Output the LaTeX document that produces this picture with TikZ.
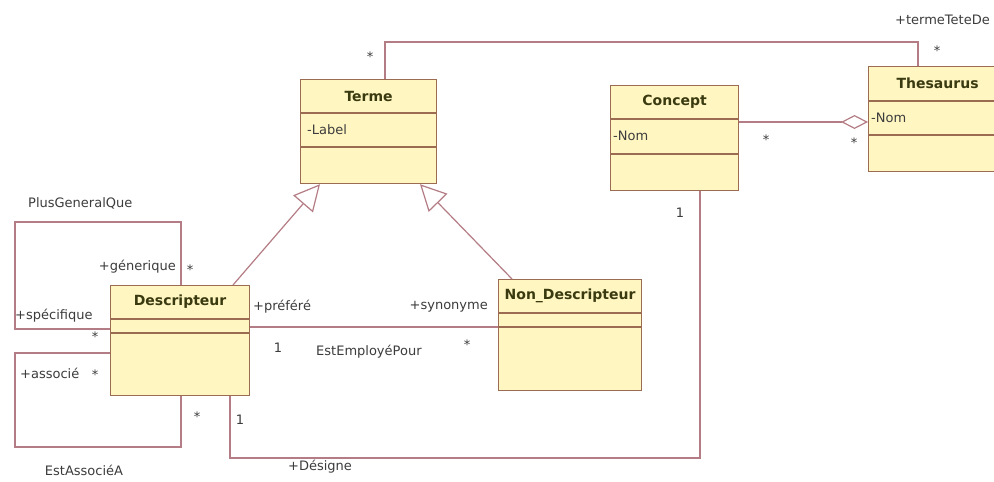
\documentclass[tikz,border=0pt]{standalone}
\usepackage{fontspec}
\setmainfont{DejaVu Sans}
\usetikzlibrary{calc,arrows.meta}
\definecolor{boxfill}{HTML}{FFF6C2}
\definecolor{boxdraw}{HTML}{9C6C52}
\definecolor{linec}{HTML}{B47C84}
\definecolor{titlec}{HTML}{3A3A10}
\definecolor{textc}{HTML}{3C3C3C}
\tikzset{
  classbox/.style={draw=boxdraw, fill=boxfill, line width=1.2pt, inner sep=0pt, anchor=north west},
  sepline/.style={draw=boxdraw, line width=1.2pt},
  ctitle/.style={font=\fontsize{14}{16}\selectfont\bfseries, text=titlec, inner sep=0pt},
  attr/.style={font=\fontsize{13}{15}\selectfont, text=textc, inner sep=0pt, anchor=west},
  lbl/.style={font=\fontsize{13}{15}\selectfont, text=textc, inner sep=0pt},
  assoc/.style={draw=linec, line width=1.2pt},
  gen/.style={assoc, -{Triangle[open, length=26pt, width=26pt, fill=white]}},
  aggr/.style={assoc, {Diamond[open, length=27pt, width=14pt, fill=white]}-},
}
\begin{document}
\begin{tikzpicture}[x=1pt, y=-1pt]
\clip (0,0) rectangle (994,482);
\useasboundingbox (0,0) rectangle (994,482);
\fill[white] (0,0) rectangle (994,482);

% Classes
\node[classbox, minimum width=136pt, minimum height=104pt] (terme) at (300,79) {};
\draw[sepline] ($(terme.north west)+(0,34)$) -- ($(terme.north east)+(0,34)$);
\draw[sepline] ($(terme.north west)+(0,68)$) -- ($(terme.north east)+(0,68)$);
\node[ctitle] (termeT) at ($(terme.north)+(0,17)$) {Terme};
\node[attr] (termeA) at ($(terme.north west)+(7,51)$) {-Label};

\node[classbox, minimum width=128pt, minimum height=105pt] (concept) at (610,85) {};
\draw[sepline] ($(concept.north west)+(0,34)$) -- ($(concept.north east)+(0,34)$);
\draw[sepline] ($(concept.north west)+(0,69)$) -- ($(concept.north east)+(0,69)$);
\node[ctitle] (conceptT) at ($(concept.north)+(0,17)$) {Concept};
\node[attr] (conceptA) at ($(concept.north west)+(3,51)$) {-Nom};

\node[classbox, minimum width=138pt, minimum height=105pt] (thes) at (868,66) {};
\draw[sepline] ($(thes.north west)+(0,35)$) -- ($(thes.north east)+(0,35)$);
\draw[sepline] ($(thes.north west)+(0,69)$) -- ($(thes.north east)+(0,69)$);
\node[ctitle] (thesT) at ($(thes.north)+(0,17)$) {Thesaurus};
\node[attr] (thesA) at ($(thes.north west)+(3,52)$) {-Nom};

\node[classbox, minimum width=139pt, minimum height=110pt] (desc) at (110,285) {};
\draw[sepline] ($(desc.north west)+(0,34)$) -- ($(desc.north east)+(0,34)$);
\draw[sepline] ($(desc.north west)+(0,48)$) -- ($(desc.north east)+(0,48)$);
\node[ctitle] (descT) at ($(desc.north)+(0,17)$) {Descripteur};

\node[classbox, minimum width=143pt, minimum height=111pt] (nond) at (498,279) {};
\draw[sepline] ($(nond.north west)+(0,34)$) -- ($(nond.north east)+(0,34)$);
\draw[sepline] ($(nond.north west)+(0,48)$) -- ($(nond.north east)+(0,48)$);
\node[ctitle] (nondT) at ($(nond.north)+(0,17)$) {Non\_Descripteur};

% Connection points
\coordinate (tA) at ($(terme.north west)+(85,0)$);
\coordinate (thA) at ($(thes.north west)+(50,0)$);
\coordinate (cA) at ($(concept.north east)+(0,37)$);
\coordinate (thB) at ($(thes.north west)+(0,56)$);
\coordinate (cB) at ($(concept.south west)+(90,0)$);
\coordinate (dB) at ($(desc.south west)+(120,0)$);
\coordinate (dG) at ($(desc.north west)+(123,0)$);
\coordinate (tG1) at ($(terme.south west)+(20,0)$);
\coordinate (nG) at ($(nond.north west)+(14,0)$);
\coordinate (tG2) at ($(terme.south west)+(120,0)$);
\coordinate (dL1) at ($(desc.north west)+(0,44)$);
\coordinate (dT1) at ($(desc.north west)+(71,0)$);
\coordinate (dL2) at ($(desc.north west)+(0,68)$);
\coordinate (dB2) at ($(desc.south west)+(71,0)$);
\coordinate (dR) at ($(desc.north east)+(0,42)$);
\coordinate (nL) at ($(nond.north west)+(0,48)$);

% Connectors
\draw[assoc] (tA) -- (tA |- 0,42) -- (thA |- 0,42) -- (thA);
\draw[aggr] (thB) -- (cA);
\draw[assoc] (cB) -- (cB |- 0,458) -- (dB |- 0,458) -- (dB);
\draw[gen] (dG) -- (tG1);
\draw[gen] (nG) -- (tG2);
\draw[assoc] (dL1) -- (15,329) -- (15,222) -- (dT1 |- 0,222) -- (dT1);
\draw[assoc] (dL2) -- (15,353) -- (15,447) -- (dB2 |- 0,447) -- (dB2);
\draw[assoc] (dR) -- (nL);

% Labels
\node[lbl] (m1) at (370,57) {*};
\node[lbl, anchor=west] (l1) at (895,20) {+termeTeteDe};
\node[lbl] (m2) at (937,51) {*};
\node[lbl] (m3) at (766,140) {*};
\node[lbl] (m4) at (854,143) {*};
\node[lbl] (m5) at (680,213) {1};
\node[lbl, anchor=west] (l2) at (28,203) {PlusGeneralQue};
\node[lbl, anchor=east] (l3) at (176,267) {+génerique};
\node[lbl] (m6) at (190,270) {*};
\node[lbl, anchor=west] (l4) at (15,316) {+spécifique};
\node[lbl] (m7) at (95,337) {*};
\node[lbl, anchor=west] (l5) at (20,373) {+associé};
\node[lbl] (m8) at (95,375) {*};
\node[lbl] (m9) at (197,417) {*};
\node[lbl] (m10) at (240,420) {1};
\node[lbl] (l6) at (84,470) {EstAssociéA};
\node[lbl, anchor=west] (l7) at (288,467) {+Désigne};
\node[lbl, anchor=west] (l8) at (253,307) {+préféré};
\node[lbl, anchor=east] (l9) at (488,307) {+synonyme};
\node[lbl] (m11) at (278,348) {1};
\node[lbl, anchor=west] (l10) at (316,352) {EstEmployéPour};
\node[lbl] (m12) at (467,345) {*};
\end{tikzpicture}
\end{document}
